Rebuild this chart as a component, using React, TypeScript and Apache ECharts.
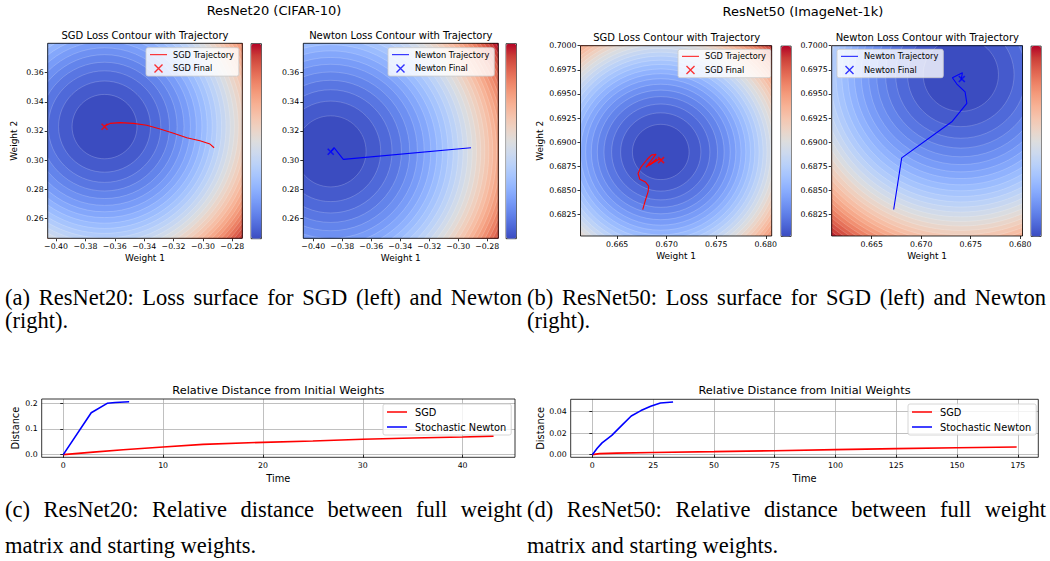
import React, { useEffect, useRef } from 'react';
import * as echarts from 'echarts';

const SANS = 'DejaVu Sans';
const SERIF = 'Liberation Serif';

// coolwarm colormap stops
const COOLWARM = ['#3b4cc0', '#4e68d8', '#6282ea', '#779af7', '#8db0fe', '#a3c2fe', '#b8d0f9', '#ccd9ee', '#dddddd', '#ecd3c5', '#f5c4ad', '#f7b194', '#f49a7b', '#ec7f63', '#de604d', '#cb3e38', '#b40426'];

// ---- ResNet20 SGD contour panel ----
const r20SgdCenter = [-0.367, 0.323];
const r20SgdRings = [0.0221, 0.0313, 0.0383, 0.0442, 0.0494, 0.0541, 0.0585, 0.0625, 0.0663, 0.0699, 0.0733, 0.0765, 0.0797, 0.0827, 0.0856, 0.0884, 0.0911, 0.0938, 0.0963, 0.0988, 0.1013, 0.1036, 0.106, 0.1083, 0.1105, 0.1127, 0.1148, 0.1169, 0.119, 0.121, 0.123, 0.125];
const r20SgdTraj = [[-0.2924, 0.3085], [-0.2952, 0.311], [-0.302, 0.3133], [-0.311, 0.3154], [-0.32, 0.3184], [-0.3292, 0.3213], [-0.3383, 0.3239], [-0.3474, 0.3252], [-0.3564, 0.3257], [-0.3632, 0.3252], [-0.3671, 0.3234]];
const r20SgdFinal = [[-0.367, 0.3229]];

// ---- ResNet20 Newton contour panel ----
const r20NewtonCenter = [-0.388, 0.306];
const r20NewtonRings = [0.0244, 0.0345, 0.0423, 0.0488, 0.0545, 0.0598, 0.0645, 0.069, 0.0732, 0.0771, 0.0809, 0.0845, 0.088, 0.0913, 0.0945, 0.0976, 0.1006, 0.1035, 0.1063, 0.1091, 0.1118, 0.1144, 0.117, 0.1195, 0.122, 0.1244, 0.1268, 0.1291, 0.1314, 0.1336, 0.1358, 0.138];
const r20NewtonTraj = [[-0.2912, 0.3085], [-0.3793, 0.3005], [-0.3857, 0.3085], [-0.388, 0.3057]];
const r20NewtonFinal = [[-0.388, 0.3057]];

// ---- ResNet50 SGD contour panel ----
const r50SgdCenter = [0.6694, 0.689];
const r50SgdRings = [0.00286, 0.00405, 0.00496, 0.00573, 0.0064, 0.00701, 0.00758, 0.0081, 0.00859, 0.00906, 0.0095, 0.00992, 0.01033, 0.01072, 0.01109, 0.01146, 0.01181, 0.01215, 0.01248, 0.01281, 0.01312, 0.01343, 0.01373, 0.01403, 0.01432, 0.0146, 0.01488, 0.01515, 0.01542, 0.01569, 0.01594, 0.0162];
const r50SgdTraj = [[0.66758, 0.68304], [0.66785, 0.684], [0.66812, 0.68486], [0.66818, 0.68546], [0.66785, 0.6859], [0.66728, 0.68618], [0.66711, 0.68677], [0.66742, 0.68746], [0.66802, 0.68822], [0.66845, 0.68867], [0.66893, 0.68877], [0.66835, 0.688], [0.6679, 0.6874], [0.6685, 0.6879], [0.669, 0.6883], [0.6682, 0.6876], [0.6693, 0.6883], [0.6695, 0.68815]];
const r50SgdFinal = [[0.66943, 0.68815]];

// ---- ResNet50 Newton contour panel ----
const r50NewtonCenter = [0.674, 0.697];
const r50NewtonRings = [0.0038, 0.00538, 0.00658, 0.0076, 0.0085, 0.00931, 0.01006, 0.01075, 0.0114, 0.01202, 0.01261, 0.01317, 0.0137, 0.01422, 0.01472, 0.0152, 0.01567, 0.01613, 0.01657, 0.017, 0.01742, 0.01783, 0.01823, 0.01862, 0.019, 0.01938, 0.01975, 0.02011, 0.02047, 0.02082, 0.02116, 0.0215];
const r50NewtonTraj = [[0.66722, 0.68304], [0.66803, 0.68839], [0.67309, 0.69212], [0.67461, 0.69403], [0.67443, 0.69523], [0.6736, 0.69603], [0.67315, 0.69668], [0.67416, 0.6972], [0.67403, 0.69644]];
const r50NewtonFinal = [[0.6741, 0.69655]];

// ---- tick labels ----
const r20XTicks = [-0.4, -0.38, -0.36, -0.34, -0.32, -0.3, -0.28];
const r20YTicks = [0.26, 0.28, 0.3, 0.32, 0.34, 0.36];
const r50XTicks = [0.665, 0.67, 0.675, 0.68];
const r50YTicks = [0.6825, 0.685, 0.6875, 0.69, 0.6925, 0.695, 0.6975, 0.7];

// ---- relative distance (time, distance) ----
const r20SgdDist = [[0, 0], [3, 0.01], [6, 0.019], [10, 0.03], [14, 0.04], [20, 0.048], [25, 0.053], [30, 0.06], [35, 0.065], [40, 0.069], [43.1, 0.072]];
const r20NewtonDist = [[0, 0], [2.8, 0.163], [4.4, 0.2], [5.2, 0.203], [6.6, 0.206]];
const r50SgdDist = [[0, 0], [3, 0.001], [10, 0.0014], [25, 0.002], [50, 0.0028], [75, 0.0037], [100, 0.0047], [125, 0.0056], [150, 0.0064], [174.5, 0.0072]];
const r50NewtonDist = [[0, 0], [2, 0.006], [4, 0.011], [8, 0.018], [12, 0.027], [16, 0.036], [20, 0.041], [24, 0.045], [28, 0.048], [33.2, 0.049]];
const r20TimeTicks = [0, 10, 20, 30, 40];
const r20DistTicks = [0, 0.1, 0.2];
const r50TimeTicks = [0, 25, 50, 75, 100, 125, 150, 175];
const r50DistTicks = [0, 0.02, 0.04];

// ---- captions ----
const captionA = ['(a) ResNet20: Loss surface for SGD (left) and Newton', '(right).'];
const captionB = ['(b) ResNet50: Loss surface for SGD (left) and Newton', '(right).'];
const captionC = ['(c) ResNet20: Relative distance between full weight', 'matrix and starting weights.'];
const captionD = ['(d) ResNet50: Relative distance between full weight', 'matrix and starting weights.'];

const fmtMinus = (d: number) => (v: number) => (v < 0 ? '\u2212' + Math.abs(v).toFixed(d) : v.toFixed(d));

function ringData(center: number[], radii: number[]) {
  const n = radii.length;
  const items = [[center[0], center[1], radii[n - 1] * 3, n - 1]];
  for (let i = n - 1; i >= 0; i--) items.push([center[0], center[1], radii[i], i]);
  return items;
}

const renderRing = (params: any, api: any) => {
  const cx = api.value(0), cy = api.value(1), r = api.value(2);
  const c = api.coord([cx, cy]);
  const s = api.size([r, r], [cx, cy]);
  const cs = params.coordSys;
  return {
    type: 'ellipse',
    shape: { cx: c[0], cy: c[1], rx: s[0], ry: s[1] },
    style: { fill: api.visual('color'), stroke: 'rgba(255,255,255,0.38)', lineWidth: 0.5 },
    clipPath: { type: 'rect', shape: { x: cs.x, y: cs.y, width: cs.width, height: cs.height } },
    silent: true,
  };
};

const XPATH = 'path://M0,0L10,10M10,0L0,10';
const LINE_ICON = 'path://M0,0L20,0L20,1.5L0,1.5Z';
const LINE_ICON_THIN = 'path://M0,0L20,0L20,1.1L0,1.1Z';

let measureCtx: CanvasRenderingContext2D | null = null;
function textWidth(s: string, font: string) {
  if (!measureCtx) measureCtx = document.createElement('canvas').getContext('2d');
  if (!measureCtx) return s.length * 8;
  measureCtx.font = font;
  return measureCtx.measureText(s).width;
}

function captionLine(text: string, x0: number, x1: number | null, y: number, fs: number) {
  const style = (t: string) => ({ text: t, fontSize: fs, fontFamily: SERIF, fill: '#000', align: 'left', verticalAlign: 'middle' });
  if (x1 == null) return [{ type: 'text', x: x0, y, silent: true, style: style(text) }];
  const words = text.split(/\s+/);
  const font = `${fs}px "${SERIF}"`;
  const widths = words.map((w) => textWidth(w, font));
  const total = widths.reduce((a, b) => a + b, 0);
  const gap = (x1 - x0 - total) / (words.length - 1);
  const out: any[] = [];
  let x = x0;
  words.forEach((w, i) => {
    out.push({ type: 'text', x, y, silent: true, style: style(w) });
    x += widths[i] + gap;
  });
  return out;
}

export default function App() {
  const ref = useRef<HTMLDivElement>(null);
  useEffect(() => {
    if (!ref.current) return;
    const chart = echarts.init(ref.current, null, { renderer: 'svg' });

    const tickStyle = { length: 3, lineStyle: { color: '#000', width: 0.8 } };
    const labelBase = { fontSize: 7.8, color: '#000', fontFamily: SANS, margin: 4 };
    const nameStyle = (fs: number) => ({ fontSize: fs, color: '#000', fontFamily: SANS });

    const contourPanels = [
      { grid: { left: 47.7, top: 43.3, width: 194.6, height: 195 }, x: [-0.4057, -0.2732], y: [0.2463, 0.3802], xt: r20XTicks, yt: r20YTicks, xd: 2, yd: 2, yName: 'Weight 2', center: r20SgdCenter, rings: r20SgdRings, traj: r20SgdTraj, fin: r20SgdFinal, color: '#ff0000', tn: 'SGD Trajectory', fn: 'SGD Final', cb: [250.7, 43.3, 10.3, 195], lg: [146, 47.7] },
      { grid: { left: 303.3, top: 43.3, width: 195, height: 195 }, x: [-0.4069, -0.2724], y: [0.2463, 0.3802], xt: r20XTicks, yt: r20YTicks, xd: 2, yd: 2, yName: '', center: r20NewtonCenter, rings: r20NewtonRings, traj: r20NewtonTraj, fin: r20NewtonFinal, color: '#0000ff', tn: 'Newton Trajectory', fn: 'Newton Final', cb: [505.7, 43.3, 10.3, 195], lg: [388, 47.7] },
      { grid: { left: 580.5, top: 45.7, width: 191.2, height: 190.3 }, x: [0.6613, 0.6806], y: [0.6803, 0.7], xt: r50XTicks, yt: r50YTicks, xd: 3, yd: 4, yName: 'Weight 2', center: r50SgdCenter, rings: r50SgdRings, traj: r50SgdTraj, fin: r50SgdFinal, color: '#ff0000', tn: 'SGD Trajectory', fn: 'SGD Final', cb: [780.7, 45.7, 10, 190.3], lg: [678, 49.3] },
      { grid: { left: 831.7, top: 45.7, width: 190.8, height: 190.3 }, x: [0.66096, 0.68023], y: [0.6803, 0.7], xt: r50XTicks, yt: r50YTicks, xd: 3, yd: 4, yName: '', center: r50NewtonCenter, rings: r50NewtonRings, traj: r50NewtonTraj, fin: r50NewtonFinal, color: '#0000ff', tn: 'Newton Trajectory', fn: 'Newton Final', cb: [1030.7, 45.7, 10, 190.3], lg: [837, 49.3] },
    ];

    const grids: any[] = [];
    const xAxes: any[] = [];
    const yAxes: any[] = [];
    const series: any[] = [];
    const visualMaps: any[] = [];
    const legends: any[] = [];

    const gridBase = { show: true, borderColor: '#000', borderWidth: 0.8, backgroundColor: 'transparent', z: 10, containLabel: false };

    contourPanels.forEach((p, i) => {
      grids.push({ ...gridBase, ...p.grid });
      xAxes.push({
        gridIndex: i, type: 'value', min: p.x[0], max: p.x[1],
        axisLine: { show: false }, splitLine: { show: false },
        axisTick: { ...tickStyle, customValues: p.xt },
        axisLabel: { ...labelBase, customValues: p.xt, formatter: fmtMinus(p.xd) },
        name: 'Weight 1', nameLocation: 'middle', nameGap: 15.5, nameTextStyle: nameStyle(9),
      });
      yAxes.push({
        gridIndex: i, type: 'value', min: p.y[0], max: p.y[1],
        axisLine: { show: false }, splitLine: { show: false },
        axisTick: { ...tickStyle, customValues: p.yt },
        axisLabel: { ...labelBase, customValues: p.yt, formatter: fmtMinus(p.yd) },
        name: p.yName, nameLocation: 'middle', nameGap: i === 0 ? 29 : 36, nameTextStyle: nameStyle(9),
      });
      const ringIdx = series.length;
      series.push({
        type: 'custom', xAxisIndex: i, yAxisIndex: i, renderItem: renderRing,
        data: ringData(p.center, p.rings), silent: true, z: 1, animation: false,
      });
      series.push({
        type: 'line', name: p.tn, xAxisIndex: i, yAxisIndex: i, data: p.traj,
        symbol: 'none', lineStyle: { color: p.color, width: 1.1 }, itemStyle: { color: p.color }, z: 3, silent: true,
      });
      series.push({
        type: 'scatter', name: p.fn, xAxisIndex: i, yAxisIndex: i, data: p.fin,
        symbol: XPATH, symbolSize: 6,
        itemStyle: { color: 'transparent', borderColor: p.color, borderWidth: 1.6 }, z: 4, silent: true,
      });
      visualMaps.push({
        type: 'continuous', seriesIndex: ringIdx, dimension: 3, min: 0, max: p.rings.length - 1,
        inRange: { color: COOLWARM }, orient: 'vertical', calculable: false, hoverLink: false,
        left: p.cb[0], top: p.cb[1], itemWidth: p.cb[2], itemHeight: p.cb[3],
        padding: 0, borderColor: '#000', borderWidth: 0.8, text: null, show: true,
      });
      legends.push({
        data: [{ name: p.tn, icon: LINE_ICON_THIN }, { name: p.fn, icon: XPATH }], orient: 'vertical', left: p.lg[0], top: p.lg[1],
        itemWidth: 17, itemHeight: 8, itemGap: 5, padding: [3, 5, 3, 4], selectedMode: false,
        backgroundColor: 'rgba(255,255,255,0.8)', borderColor: '#cccccc', borderWidth: 0.8, borderRadius: 2,
        textStyle: { fontSize: 8.2, fontFamily: SANS, color: '#000', padding: [0, 0, 0, 1] },
        itemStyle: { borderWidth: 1.4 },
      });
    });

    const distPanels = [
      { grid: { left: 41.7, top: 399, width: 473.3, height: 58.3 }, x: [-2.16, 45.25], y: [-0.0103, 0.2168], xt: r20TimeTicks, yt: r20DistTicks, yd: 1, sgd: r20SgdDist, nw: r20NewtonDist, lg: [383, 404], yGap: 21.5 },
      { grid: { left: 570.7, top: 399.3, width: 467.6, height: 58 }, x: [-8.9, 183.4], y: [-0.00245, 0.0515], xt: r50TimeTicks, yt: r50DistTicks, yd: 2, sgd: r50SgdDist, nw: r50NewtonDist, lg: [908, 404], yGap: 25.5 },
    ];
    distPanels.forEach((p) => {
      const i = grids.length;
      grids.push({ ...gridBase, ...p.grid });
      const split = { show: true, lineStyle: { color: '#b0b0b0', width: 0.8 } };
      xAxes.push({
        gridIndex: i, type: 'value', min: p.x[0], max: p.x[1],
        axisLine: { show: false }, splitLine: split,
        axisTick: { ...tickStyle, customValues: p.xt },
        axisLabel: { ...labelBase, customValues: p.xt, formatter: (v: number) => String(v) },
        name: 'Time', nameLocation: 'middle', nameGap: 16, nameTextStyle: nameStyle(9.8),
      });
      yAxes.push({
        gridIndex: i, type: 'value', min: p.y[0], max: p.y[1],
        axisLine: { show: false }, splitLine: split,
        axisTick: { ...tickStyle, customValues: p.yt },
        axisLabel: { ...labelBase, customValues: p.yt, formatter: (v: number) => v.toFixed(p.yd) },
        name: 'Distance', nameLocation: 'middle', nameGap: p.yGap, nameTextStyle: nameStyle(9.8),
      });
      series.push({
        type: 'line', name: 'SGD', xAxisIndex: i, yAxisIndex: i, data: p.sgd, symbol: 'none',
        lineStyle: { color: '#ff0000', width: 1.6 }, itemStyle: { color: '#ff0000' }, z: 3,
      });
      series.push({
        type: 'line', name: 'Stochastic Newton', xAxisIndex: i, yAxisIndex: i, data: p.nw, symbol: 'none',
        lineStyle: { color: '#0000ff', width: 1.6 }, itemStyle: { color: '#0000ff' }, z: 3,
      });
      legends.push({
        data: [{ name: 'SGD', icon: LINE_ICON }, { name: 'Stochastic Newton', icon: LINE_ICON }], orient: 'vertical', left: p.lg[0], top: p.lg[1],
        itemWidth: 20, itemHeight: 10, itemGap: 5, padding: [3, 5, 3, 4], selectedMode: false,
        backgroundColor: 'rgba(255,255,255,0.8)', borderColor: '#cccccc', borderWidth: 0.8, borderRadius: 2,
        textStyle: { fontSize: 9.8, fontFamily: SANS, color: '#000', padding: [0, 0, 0, 3] },
      });
    });

    const txt = (text: string, x: number, y: number, fs: number) => ({
      type: 'text', x, y, silent: true,
      style: { text, fontSize: fs, fontFamily: SANS, fill: '#000', align: 'center', verticalAlign: 'middle' },
    });

    const CFS = 22.5;
    const graphics = [
      txt('ResNet20 (CIFAR-10)', 274, 10.5, 13),
      txt('ResNet50 (ImageNet-1k)', 803, 11.5, 13),
      txt('SGD Loss Contour with Trajectory', 145, 35, 10),
      txt('Newton Loss Contour with Trajectory', 400.8, 35, 10),
      txt('SGD Loss Contour with Trajectory', 676.7, 37.3, 10),
      txt('Newton Loss Contour with Trajectory', 927.3, 37.3, 10),
      txt('Relative Distance from Initial Weights', 278.4, 390, 11.3),
      txt('Relative Distance from Initial Weights', 804.5, 390, 11.3),
      ...captionLine(captionA[0], 5, 522, 297, CFS),
      ...captionLine(captionA[1], 5, null, 320, CFS),
      ...captionLine(captionB[0], 527, 1046, 297, CFS),
      ...captionLine(captionB[1], 527, null, 320, CFS),
      ...captionLine(captionC[0], 5, 522, 509, CFS),
      ...captionLine(captionC[1], 5, null, 545, CFS),
      ...captionLine(captionD[0], 527, 1046, 509, CFS),
      ...captionLine(captionD[1], 527, null, 545, CFS),
    ];

    chart.setOption({
      animation: false,
      backgroundColor: '#ffffff',
      grid: grids,
      xAxis: xAxes,
      yAxis: yAxes,
      visualMap: visualMaps,
      legend: legends,
      series,
      graphic: graphics,
    });
    return () => chart.dispose();
  }, []);
  return <div ref={ref} style={{ position: 'fixed', left: 0, top: 0, width: 1050, height: 561, background: '#fff' }} />;
}
